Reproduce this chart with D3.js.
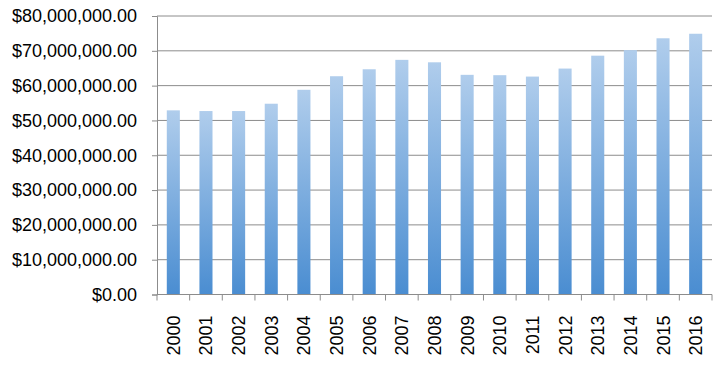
<!DOCTYPE html>
<html>
<head>
<meta charset="utf-8">
<script src="https://cdn.jsdelivr.net/npm/d3@7"></script>
<style>
  body { margin: 0; background: #fff; }
  svg text { font-family: "Liberation Sans", Arial, sans-serif; fill: #000; }
</style>
</head>
<body>
<div id="chart"></div>
<script>
// Yearly totals
const years = ["2000", "2001", "2002", "2003", "2004", "2005", "2006", "2007", "2008",
               "2009", "2010", "2011", "2012", "2013", "2014", "2015", "2016"];
const amounts = [52.9e6, 52.7e6, 52.7e6, 54.8e6, 58.8e6, 62.7e6, 64.7e6, 67.4e6, 66.7e6,
                 63.1e6, 63.0e6, 62.6e6, 64.9e6, 68.6e6, 70.2e6, 73.6e6, 74.9e6];
const yTicks = [0, 10e6, 20e6, 30e6, 40e6, 50e6, 60e6, 70e6, 80e6];

const data = years.map((y, i) => ({ year: y, value: amounts[i] }));

const width = 726;
const height = 365;
const margin = { top: 16, right: 14, bottom: 70.5, left: 157 };

const svg = d3.select("#chart")
  .append("svg")
  .attr("width", width)
  .attr("height", height);

// vertical gradient like the Excel bar fill
const grad = svg.append("defs").append("linearGradient")
  .attr("id", "barFill")
  .attr("x1", 0).attr("y1", 0).attr("x2", 0).attr("y2", 1);
grad.append("stop").attr("offset", "0%").attr("stop-color", "#b0cdec");
grad.append("stop").attr("offset", "100%").attr("stop-color", "#4a8dd1");

const x = d3.scaleBand()
  .domain(years)
  .range([margin.left, width - margin.right])
  .paddingInner(0.6)
  .paddingOuter(0.3);

const y = d3.scaleLinear()
  .domain([0, 80e6])
  .range([height - margin.bottom, margin.top]);

// gridlines
svg.append("g")
  .selectAll("line")
  .data(yTicks.slice(1))
  .join("line")
    .attr("x1", margin.left)
    .attr("x2", width - margin.right)
    .attr("y1", d => y(d))
    .attr("y2", d => y(d))
    .attr("stroke", "#8c8c8c")
    .attr("stroke-width", 1);

// bars
svg.append("g")
  .selectAll("rect")
  .data(data)
  .join("rect")
    .attr("x", d => x(d.year))
    .attr("y", d => y(d.value))
    .attr("width", x.bandwidth())
    .attr("height", d => y(0) - y(d.value))
    .attr("fill", "url(#barFill)");

// y axis
const yAxis = svg.append("g")
  .attr("transform", `translate(${margin.left},0)`)
  .call(d3.axisLeft(y).tickValues(yTicks).tickFormat(d3.format("$,.2f")).tickSize(5).tickPadding(15));
yAxis.select(".domain").attr("stroke", "#8c8c8c");
yAxis.selectAll(".tick line").attr("stroke", "#8c8c8c");
yAxis.selectAll("text").style("font-size", "18px");

// x axis: boundary ticks + rotated labels
const xAxisG = svg.append("g")
  .attr("transform", `translate(0,${y(0)})`);
xAxisG.append("line")
  .attr("x1", margin.left).attr("x2", width - margin.right)
  .attr("stroke", "#8c8c8c");
const step = x.step();
const bounds = d3.range(years.length + 1).map(i => margin.left + i * step);
xAxisG.selectAll(".bt")
  .data(bounds)
  .join("line")
    .attr("class", "bt")
    .attr("x1", d => d).attr("x2", d => d)
    .attr("y1", 0).attr("y2", 6)
    .attr("stroke", "#8c8c8c");
xAxisG.selectAll("text")
  .data(years)
  .join("text")
    .attr("transform", d => `translate(${x(d) + x.bandwidth() / 2 + 6.5},${21}) rotate(-90)`)
    .attr("text-anchor", "end")
    .style("font-size", "18px")
    .text(d => d);
</script>
</body>
</html>
